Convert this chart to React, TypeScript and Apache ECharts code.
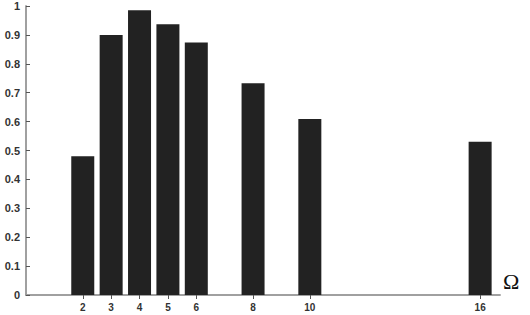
import React, { useEffect, useRef } from "react";
import * as echarts from "echarts";

const omegaValues = [2, 3, 4, 5, 6, 8, 10, 16];
const barValues = [0.48, 0.9, 0.985, 0.937, 0.874, 0.733, 0.609, 0.53];
const yTicks = [0, 0.1, 0.2, 0.3, 0.4, 0.5, 0.6, 0.7, 0.8, 0.9, 1];

export default function App() {
  const ref = useRef<HTMLDivElement>(null);
  useEffect(() => {
    if (!ref.current) return;
    const chart = echarts.init(ref.current, null, { renderer: "svg" });
    const lineStyle = { color: "#9a9a9a", width: 1.5 };
    chart.setOption({
      animation: false,
      backgroundColor: "#ffffff",
      grid: { left: 26, top: 6, right: 30, bottom: 20, show: false },
      xAxis: [
        {
          type: "value",
          min: 0,
          max: 16.7,
          position: "bottom",
          axisLine: { show: true, lineStyle },
          axisTick: { show: true, inside: true, length: 4, customValues: omegaValues, lineStyle: { color: "#555" } },
          axisLabel: {
            customValues: omegaValues,
            fontFamily: "Liberation Sans, Arial, sans-serif",
            fontWeight: "bold",
            fontSize: 10,
            color: "#333",
            margin: 7,
          },
          splitLine: { show: false },
        },
        {
          type: "value",
          min: 0,
          max: 16.7,
          position: "top",
          axisLine: { show: true, lineStyle },
          axisTick: { show: true, inside: true, length: 4, customValues: omegaValues, lineStyle: { color: "#555" } },
          axisLabel: { show: false },
          splitLine: { show: false },
        },
      ],
      yAxis: [
        {
          type: "value",
          min: 0,
          max: 1,
          interval: 0.1,
          position: "left",
          axisLine: { show: true, lineStyle },
          axisTick: { show: true, inside: true, length: 4, lineStyle: { color: "#555" } },
          axisLabel: {
            customValues: yTicks,
            formatter: (v: number) => String(Math.round(v * 10) / 10),
            fontFamily: "Liberation Sans, Arial, sans-serif",
            fontWeight: "bold",
            fontSize: 11,
            color: "#333",
            margin: 6,
          },
          splitLine: { show: false },
        },
        {
          type: "value",
          min: 0,
          max: 1,
          interval: 0.1,
          position: "right",
          axisLine: { show: true, lineStyle },
          axisTick: { show: false },
          axisLabel: { show: false },
          splitLine: { show: false },
        },
      ],
      series: [
        {
          type: "bar",
          xAxisIndex: 0,
          yAxisIndex: 0,
          barWidth: 23,
          data: omegaValues.map((x, i) => [x, barValues[i]]),
          itemStyle: { color: "#222222" },
        },
      ],
      graphic: [
        {
          type: "text",
          left: 503,
          top: 270,
          style: {
            text: "Ω",
            font: "22px 'Liberation Serif', 'DejaVu Serif', serif",
            fill: "#111",
          },
        },
      ],
    });
    return () => chart.dispose();
  }, []);
  return (
    <div
      ref={ref}
      style={{ position: "fixed", left: 0, top: 0, width: 530, height: 315 }}
    />
  );
}
